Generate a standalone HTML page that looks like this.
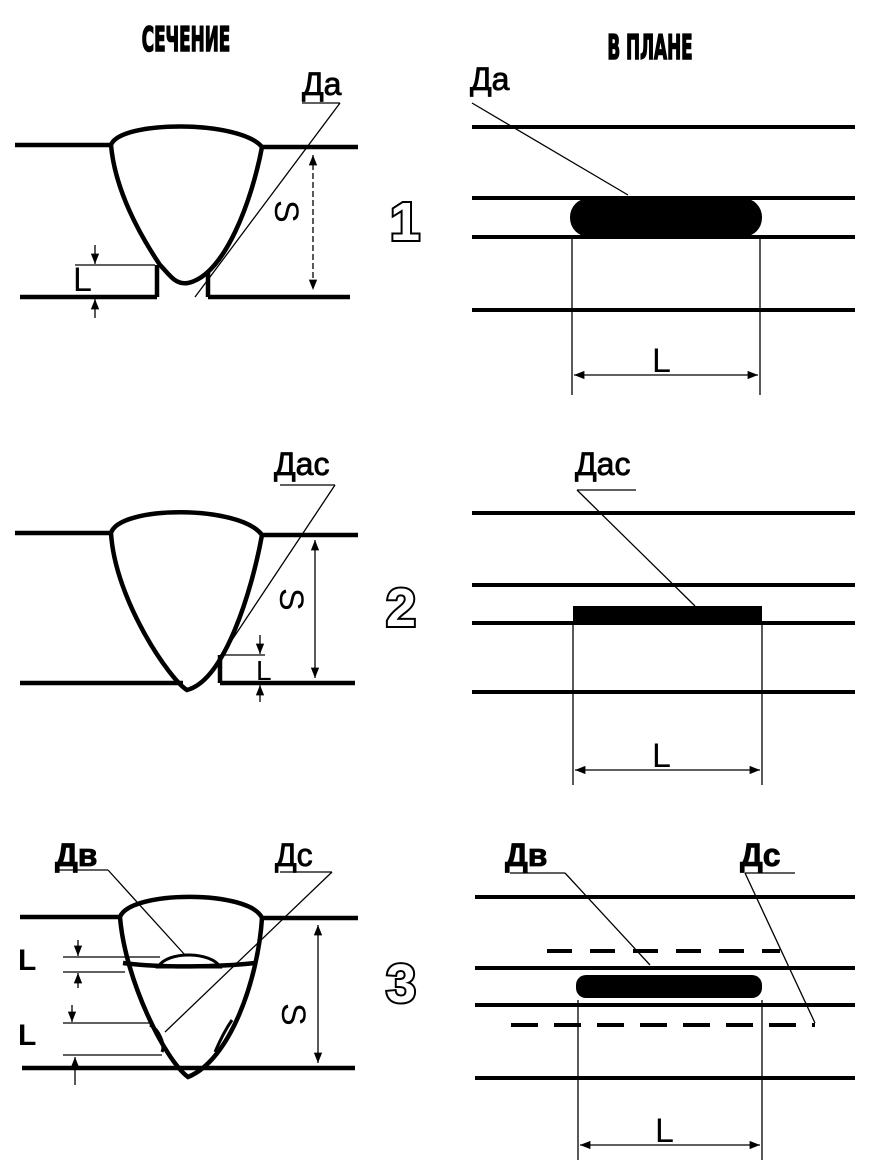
<!DOCTYPE html>
<html><head><meta charset="utf-8"><style>
html,body{margin:0;padding:0;background:#fff;}
svg{display:block;}
text{font-family:"Liberation Sans","DejaVu Sans",sans-serif;fill:#000;}
</style></head><body>
<svg width="883" height="1170" viewBox="0 0 883 1170" xmlns="http://www.w3.org/2000/svg">
<defs>
<marker id="a" viewBox="0 0 10 10" refX="10" refY="5" markerWidth="8" markerHeight="8" orient="auto-start-reverse"><path d="M0,1 L10,5 L0,9 z" fill="#000"/></marker>
</defs>
<!-- headers -->
<text x="186" y="51" font-size="34" font-weight="bold" stroke="#000" stroke-width="1.5" text-anchor="middle" transform="translate(186 0) scale(0.55 1) translate(-186 0)" style="font-family:'DejaVu Sans Condensed','Liberation Sans Narrow',sans-serif">СЕЧЕНИЕ</text>
<text x="650" y="59" font-size="34" font-weight="bold" stroke="#000" stroke-width="1.5" text-anchor="middle" transform="translate(650 0) scale(0.55 1) translate(-650 0)" style="font-family:'DejaVu Sans Condensed','Liberation Sans Narrow',sans-serif">В ПЛАНЕ</text>

<g stroke="#000" fill="none">
<!-- ===== Panel 1 left ===== -->
<g stroke-width="4.5">
<line x1="15" y1="145" x2="111" y2="145"/><line x1="262" y1="147" x2="358" y2="147"/>
<line x1="20" y1="297" x2="157" y2="297"/><line x1="208" y1="297" x2="350" y2="297"/>
<line x1="157" y1="265" x2="157" y2="297"/><line x1="208" y1="272" x2="208" y2="297"/>
<path d="M111,145 C120,120 240,120 262,147 C252,200 225,275 188,283 C175,285 170,275 160,265 C140,235 115,190 111,145 Z"/>
</g>
<g stroke-width="1.3">
<line x1="302" y1="103" x2="340" y2="103"/><line x1="340" y1="103" x2="195" y2="297"/>
<line x1="313" y1="155" x2="313" y2="290" stroke-dasharray="6 3" marker-start="url(#a)" marker-end="url(#a)"/>
<line x1="75" y1="265" x2="155" y2="265"/>
<line x1="95" y1="245" x2="95" y2="264" marker-end="url(#a)"/>
<line x1="95" y1="318" x2="95" y2="299" marker-end="url(#a)"/>
</g>
<!-- Panel 1 right -->
<g stroke-width="4">
<line x1="472" y1="127" x2="855" y2="127"/><line x1="472" y1="198" x2="855" y2="198"/>
<line x1="472" y1="237" x2="855" y2="237"/><line x1="472" y1="310" x2="855" y2="310"/>
</g>
<rect x="570" y="198" width="192" height="39" rx="19" fill="#000" stroke="none"/>
<g stroke-width="1.3">
<line x1="472" y1="103" x2="628" y2="195"/>
<line x1="572" y1="237" x2="572" y2="395"/><line x1="760" y1="237" x2="760" y2="395"/>
<line x1="574" y1="375" x2="758" y2="375" marker-start="url(#a)" marker-end="url(#a)"/>
</g>

<!-- ===== Panel 2 left ===== -->
<g stroke-width="4.5">
<line x1="15" y1="533" x2="111" y2="533"/><line x1="262" y1="535" x2="358" y2="535"/>
<line x1="20" y1="683" x2="183" y2="683"/><line x1="220" y1="683" x2="355" y2="683"/>
<line x1="220" y1="655" x2="220" y2="683"/>
<path d="M111,533 C120,505 240,505 262,535 C252,590 225,680 187,690 C170,680 115,600 111,533 Z"/>
</g>
<g stroke-width="1.3">
<line x1="280" y1="485" x2="335" y2="485"/><line x1="335" y1="485" x2="222" y2="655"/>
<line x1="220" y1="655" x2="265" y2="655"/>
<line x1="315" y1="540" x2="315" y2="678" marker-start="url(#a)" marker-end="url(#a)"/>
<line x1="260" y1="635" x2="260" y2="654" marker-end="url(#a)"/>
<line x1="260" y1="702" x2="260" y2="685" marker-end="url(#a)"/>
</g>
<!-- Panel 2 right -->
<g stroke-width="4">
<line x1="472" y1="513" x2="855" y2="513"/><line x1="472" y1="585" x2="855" y2="585"/>
<line x1="472" y1="623" x2="855" y2="623"/><line x1="472" y1="692" x2="855" y2="692"/>
</g>
<rect x="573" y="606" width="189" height="17" fill="#000" stroke="none"/>
<g stroke-width="1.3">
<line x1="577" y1="490" x2="636" y2="490"/><line x1="577" y1="490" x2="695" y2="606"/>
<line x1="573" y1="623" x2="573" y2="785"/><line x1="762" y1="623" x2="762" y2="785"/>
<line x1="575" y1="770" x2="760" y2="770" marker-start="url(#a)" marker-end="url(#a)"/>
</g>

<!-- ===== Panel 3 left ===== -->
<g stroke-width="4.5">
<line x1="20" y1="917" x2="120" y2="917"/><line x1="262" y1="918" x2="358" y2="918"/>
<line x1="22" y1="1068" x2="355" y2="1068"/>
<path d="M120,917 C130,890 250,890 262,918 C258,980 230,1060 188,1077 C165,1060 125,980 120,917 Z"/>
<path d="M123,963 C160,968 220,967 255,963"/>
<path d="M158,967 C168,950 212,952 220,967 Z" stroke-width="3"/>
<path d="M150,1025 C160,1030 165,1045 162,1052" stroke-width="3"/>
<path d="M232,1020 C225,1030 218,1045 215,1052" stroke-width="3"/>
</g>
<g stroke-width="1.3">
<line x1="55" y1="870" x2="108" y2="870"/><line x1="108" y1="870" x2="185" y2="955"/>
<line x1="280" y1="872" x2="332" y2="872"/><line x1="332" y1="872" x2="165" y2="1032"/>
<line x1="63" y1="957" x2="160" y2="957"/><line x1="63" y1="972" x2="125" y2="972"/>
<line x1="63" y1="1023" x2="150" y2="1023"/><line x1="63" y1="1055" x2="162" y2="1055"/>
<line x1="78" y1="940" x2="78" y2="956" marker-end="url(#a)"/>
<line x1="78" y1="988" x2="78" y2="973" marker-end="url(#a)"/>
<line x1="72" y1="1005" x2="72" y2="1022" marker-end="url(#a)"/>
<line x1="75" y1="1085" x2="75" y2="1057" marker-end="url(#a)"/>
<line x1="318" y1="925" x2="318" y2="1063" marker-start="url(#a)" marker-end="url(#a)"/>
</g>
<!-- Panel 3 right -->
<g stroke-width="4">
<line x1="475" y1="897" x2="855" y2="897"/><line x1="475" y1="968" x2="855" y2="968"/>
<line x1="475" y1="1005" x2="855" y2="1005"/><line x1="475" y1="1078" x2="855" y2="1078"/>
<line x1="547" y1="951" x2="780" y2="951" stroke-dasharray="25 18"/>
<line x1="511" y1="1025" x2="815" y2="1025" stroke-dasharray="27 16"/>
</g>
<rect x="576" y="975" width="186" height="23" rx="10" fill="#000" stroke="none"/>
<g stroke-width="1.3">
<line x1="510" y1="873" x2="565" y2="873"/><line x1="565" y1="873" x2="650" y2="965"/>
<line x1="745" y1="873" x2="795" y2="873"/><line x1="745" y1="873" x2="815" y2="1023"/>
<line x1="578" y1="1000" x2="578" y2="1160"/><line x1="762" y1="1000" x2="762" y2="1160"/>
<line x1="580" y1="1145" x2="760" y2="1145" marker-start="url(#a)" marker-end="url(#a)"/>
</g>
</g>

<!-- labels -->
<g font-size="32" stroke="#000" stroke-width="0.8">
<text x="302" y="95">Да</text>
<text x="470" y="90">Да</text>
<text x="274" y="475">Дас</text>
<text x="575" y="475">Дас</text>
<text x="55" y="866" font-weight="bold">Дв</text>
<text x="275" y="866">Дс</text>
<text x="505" y="866" font-weight="bold">Дв</text>
<text x="740" y="866" font-weight="bold">Дс</text>
</g>
<g font-size="34">
<text x="652" y="372">L</text>
<text x="652" y="767">L</text>
<text x="655" y="1142">L</text>
<text x="73" y="291">L</text>
<text x="0" y="0" transform="translate(275 200) rotate(90)">S</text>
<text x="0" y="0" transform="translate(280 588) rotate(90)">S</text>
<text x="0" y="0" transform="translate(282 1003) rotate(90)">S</text>
<text x="256" y="680" font-size="28">L</text>
<text x="18" y="970" font-size="30" font-weight="bold">L</text>
<text x="18" y="1045" font-size="30" font-weight="bold">L</text>
</g>
<g font-size="54" font-weight="bold" fill="#fff" stroke="#000" stroke-width="4" paint-order="stroke">
<text x="390" y="240" style="fill:#fff">1</text>
<text x="386" y="626" style="fill:#fff">2</text>
<text x="386" y="1002" style="fill:#fff">3</text>
</g>
</svg>
</body></html>
